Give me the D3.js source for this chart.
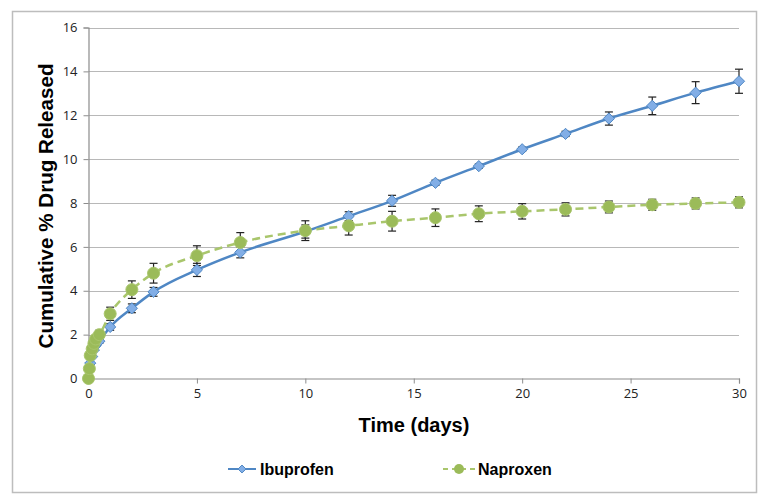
<!DOCTYPE html>
<html>
<head>
<meta charset="utf-8">
<script src="https://cdn.jsdelivr.net/npm/d3@7"></script>
<style>
  body { margin: 0; background: #fff; }
  svg { display: block; font-family: "Liberation Sans", Arial, sans-serif; }
</style>
</head>
<body>
<div id="app"></div>
<script>
// time points (days)
var ibuDays = [0, 0.08, 0.17, 0.25, 0.33, 0.5, 1, 2, 3, 5, 7, 10, 12, 14, 16, 18, 20, 22, 24, 26, 28, 30];
var ibuVals = [0, 0.7, 1.0, 1.3, 1.5, 1.7, 2.35, 3.2, 3.95, 4.95, 5.75, 6.7, 7.4, 8.1, 8.92, 9.68, 10.45, 11.15, 11.85, 12.43, 13.03, 13.55];
var ibuErr  = [0, 0.05, 0.05, 0.05, 0.05, 0.1, 0.15, 0.2, 0.2, 0.3, 0.25, 0.3, 0.2, 0.25, 0.12, 0.1, 0.1, 0.12, 0.3, 0.4, 0.5, 0.55];

var napDays = [0, 0.04, 0.08, 0.17, 0.25, 0.33, 0.5, 1, 2, 3, 5, 7, 10, 12, 14, 16, 18, 20, 22, 24, 26, 28, 30];
var napVals = [0, 0.45, 1.05, 1.35, 1.6, 1.8, 2.0, 2.95, 4.05, 4.8, 5.6, 6.2, 6.74, 6.96, 7.17, 7.33, 7.51, 7.62, 7.71, 7.82, 7.92, 7.98, 8.03];
var napErr  = [0, 0.05, 0.1, 0.1, 0.15, 0.15, 0.2, 0.3, 0.4, 0.45, 0.45, 0.45, 0.45, 0.42, 0.45, 0.4, 0.36, 0.35, 0.3, 0.27, 0.25, 0.25, 0.25];

var xTicks = [0, 5, 10, 15, 20, 25, 30];
var yTicks = [0, 2, 4, 6, 8, 10, 12, 14, 16];

var W = 771, H = 503;
var svg = d3.select("#app").append("svg").attr("width", W).attr("height", H);

// outer frame
svg.append("rect").attr("x", 12.5).attr("y", 11.5).attr("width", 744).attr("height", 481)
    .attr("fill", "#fff").attr("stroke", "#bdbdbd").attr("stroke-width", 1.5);

var x = d3.scaleLinear().domain([0, 30]).range([88.5, 739]);
var y = d3.scaleLinear().domain([0, 16]).range([378.5, 27.5]);

// gridlines
svg.append("g").selectAll("line").data(yTicks.filter(function(d) { return d > 0; }))
  .enter().append("line")
    .attr("x1", x(0)).attr("x2", x(30))
    .attr("y1", function(d) { return Math.round(y(d)) + 0.5; })
    .attr("y2", function(d) { return Math.round(y(d)) + 0.5; })
    .attr("stroke", "#b8b8b8").attr("stroke-width", 1.2);

// axes
var yAxis = svg.append("g").attr("transform", "translate(" + x(0) + ",0)")
    .call(d3.axisLeft(y).tickValues(yTicks).tickSize(5).tickPadding(6));
var xAxis = svg.append("g").attr("transform", "translate(0," + y(0) + ")")
    .call(d3.axisBottom(x).tickValues(xTicks).tickSize(5).tickPadding(5));
[xAxis, yAxis].forEach(function(a) {
  a.select(".domain").attr("stroke", "#8c8c8c").attr("stroke-width", 1.2);
  a.selectAll(".tick line").attr("stroke", "#8c8c8c");
  a.selectAll("text").attr("font-size", 13).attr("fill", "#222")
    .attr("font-family", "'Open Sans', sans-serif");
});

// axis titles
svg.append("text").attr("x", 414).attr("y", 432).attr("text-anchor", "middle")
  .attr("font-size", 20).attr("font-weight", "bold").text("Time (days)");
svg.append("text").attr("transform", "translate(53,206) rotate(-90)").attr("text-anchor", "middle")
  .attr("font-size", 20.6).attr("font-weight", "bold").text("Cumulative % Drug Released");

function series(days, vals, errs) {
  return days.map(function(d, i) { return { t: d, v: vals[i], e: errs[i] }; });
}
var ibu = series(ibuDays, ibuVals, ibuErr);
var nap = series(napDays, napVals, napErr);

var line = d3.line().x(function(d) { return x(d.t); }).y(function(d) { return y(d.v); })
    .curve(d3.curveMonotoneX);

function errBars(data) {
  var g = svg.append("g").attr("stroke", "#222").attr("stroke-width", 1.2);
  data.filter(function(d) { return d.e > 0.08; }).forEach(function(d) {
    var cx = x(d.t), y1 = y(d.v + d.e), y2 = y(d.v - d.e);
    g.append("line").attr("x1", cx).attr("x2", cx).attr("y1", y1).attr("y2", y2);
    g.append("line").attr("x1", cx - 4).attr("x2", cx + 4).attr("y1", y1).attr("y2", y1);
    g.append("line").attr("x1", cx - 4).attr("x2", cx + 4).attr("y1", y2).attr("y2", y2);
  });
}

errBars(ibu);
errBars(nap);

// ibuprofen
svg.append("path").datum(ibu).attr("d", line).attr("fill", "none")
  .attr("stroke", "#4f87c4").attr("stroke-width", 2.5);
svg.append("g").selectAll("path").data(ibu).enter().append("path")
  .attr("d", d3.symbol().type(d3.symbolDiamond2).size(80))
  .attr("transform", function(d) { return "translate(" + x(d.t) + "," + y(d.v) + ")"; })
  .attr("fill", "#82aee6").attr("stroke", "#4f87c4").attr("stroke-width", 1);

// naproxen
svg.append("path").datum(nap).attr("d", line).attr("fill", "none")
  .attr("stroke", "#a9c66c").attr("stroke-width", 2.5).attr("stroke-dasharray", "8,5");
svg.append("g").selectAll("circle").data(nap).enter().append("circle")
  .attr("cx", function(d) { return x(d.t); }).attr("cy", function(d) { return y(d.v); })
  .attr("r", 6).attr("fill", "#9bbb59").attr("stroke", "#a9c66c").attr("stroke-width", 1);

// legend
var lg = svg.append("g");
lg.append("line").attr("x1", 228).attr("x2", 256).attr("y1", 469).attr("y2", 469)
  .attr("stroke", "#4f87c4").attr("stroke-width", 2);
lg.append("path").attr("d", d3.symbol().type(d3.symbolDiamond2).size(40))
  .attr("transform", "translate(242,469)").attr("fill", "#82aee6").attr("stroke", "#4f87c4");
lg.append("text").attr("x", 260).attr("y", 475).attr("font-size", 16).attr("font-weight", "bold").text("Ibuprofen");
lg.append("line").attr("x1", 443).attr("x2", 475).attr("y1", 469).attr("y2", 469)
  .attr("stroke", "#a9c66c").attr("stroke-width", 2).attr("stroke-dasharray", "5,4");
lg.append("circle").attr("cx", 459).attr("cy", 469).attr("r", 5).attr("fill", "#9bbb59");
lg.append("text").attr("x", 478).attr("y", 475).attr("font-size", 16).attr("font-weight", "bold").text("Naproxen");
</script>
</body>
</html>
